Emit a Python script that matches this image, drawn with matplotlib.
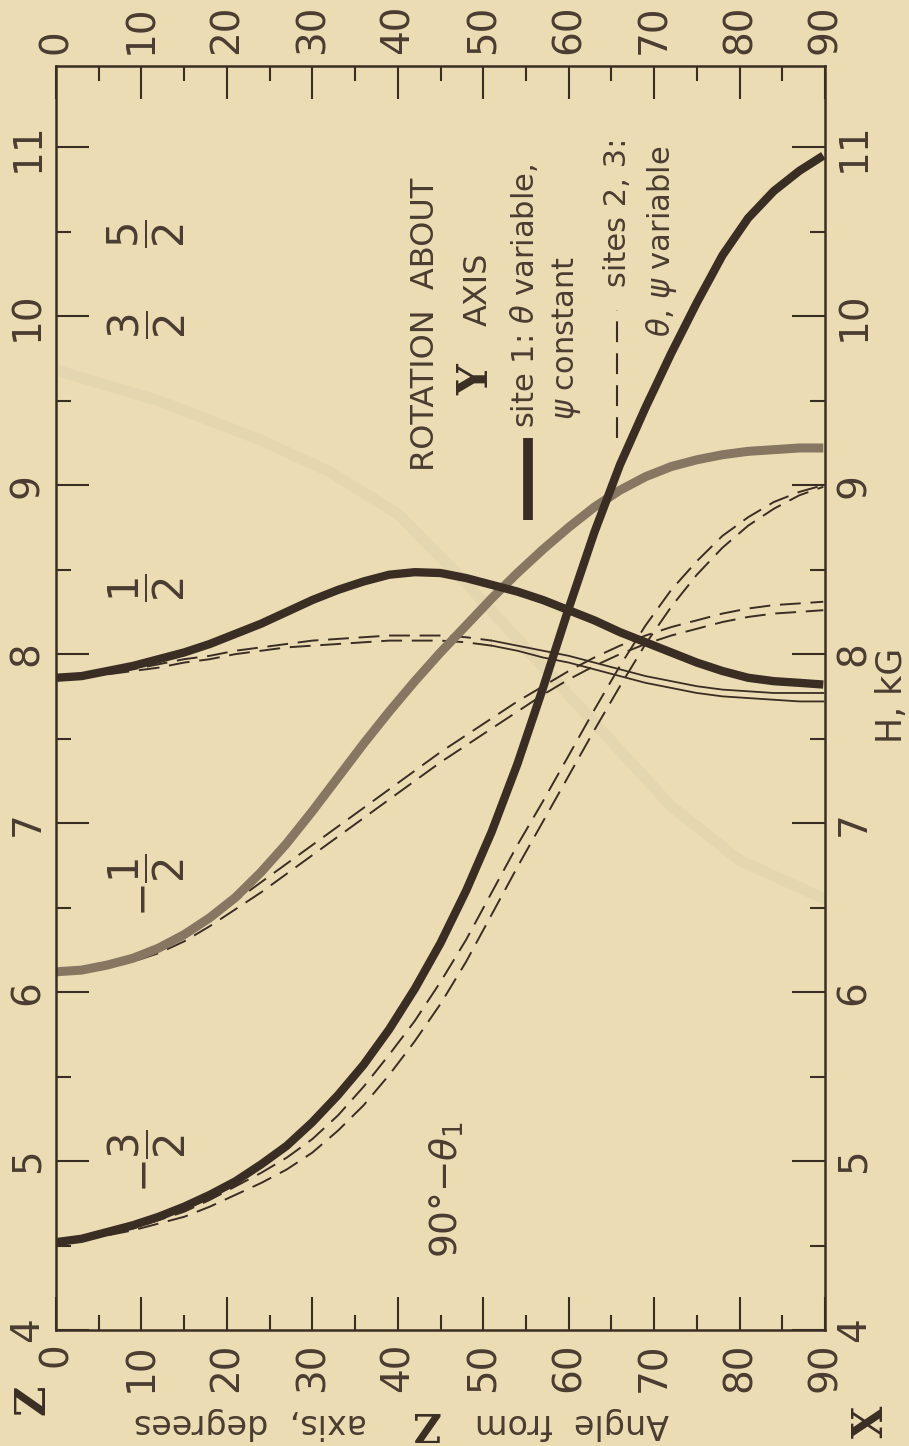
import matplotlib.pyplot as plt
from matplotlib.ticker import MultipleLocator

plt.rcParams['font.family'] = ['DejaVu Sans']
plt.rcParams['mathtext.fontset'] = 'dejavusans'
plt.rcParams['lines.scale_dashes'] = False

#---------------------------- Data: angle (deg) against H (kG) ----------------------------#
angle_ticks = [0, 10, 20, 30, 40, 50, 60, 70, 80, 90]
field_ticks = [4, 5, 6, 7, 8, 9, 10, 11]

angle_grid = [0, 3, 6, 9, 12, 15, 18, 21, 24, 27, 30, 33, 36, 39, 42, 45, 48, 51, 54, 57,
              60, 63, 66, 69, 72, 75, 78, 81, 84, 87, 89.8]

# site 1, lowest level (90 deg - theta_1), thick dark
s1_low_field = [4.52, 4.54, 4.58, 4.62, 4.67, 4.73, 4.80, 4.88, 4.98, 5.09, 5.23, 5.39, 5.57,
                5.78, 6.02, 6.29, 6.60, 6.95, 7.35, 7.80, 8.27, 8.72, 9.12, 9.46, 9.78, 10.08,
                10.36, 10.58, 10.74, 10.86, 10.95]
# sites 2, 3 along the lowest level (two dashed lines)
s23_low_field_a = [4.52, 4.54, 4.57, 4.60, 4.65, 4.70, 4.77, 4.85, 4.93, 5.02, 5.13, 5.27, 5.44,
                   5.63, 5.83, 6.06, 6.31, 6.59, 6.87, 7.13, 7.40, 7.67, 7.93, 8.17, 8.38, 8.55,
                   8.70, 8.81, 8.90, 8.96, 9.00]
s23_low_field_b = [4.52, 4.54, 4.56, 4.59, 4.63, 4.67, 4.73, 4.80, 4.87, 4.95, 5.05, 5.18, 5.33,
                   5.51, 5.71, 5.93, 6.18, 6.46, 6.74, 7.01, 7.28, 7.55, 7.81, 8.06, 8.28, 8.47,
                   8.63, 8.76, 8.86, 8.94, 8.99]

# site 1, second level, thick grey
s1_mid_field = [6.12, 6.13, 6.16, 6.20, 6.26, 6.34, 6.44, 6.56, 6.71, 6.88, 7.07, 7.27, 7.47,
                7.66, 7.84, 8.01, 8.17, 8.33, 8.48, 8.62, 8.75, 8.87, 8.97, 9.05, 9.11, 9.15,
                9.18, 9.20, 9.21, 9.22, 9.22]
# sites 2, 3 along the second level
s23_mid_field_a = [6.12, 6.13, 6.15, 6.19, 6.25, 6.33, 6.43, 6.54, 6.65, 6.76, 6.87, 6.98, 7.09,
                   7.20, 7.31, 7.42, 7.52, 7.62, 7.72, 7.81, 7.90, 7.98, 8.05, 8.11, 8.16, 8.20,
                   8.24, 8.27, 8.29, 8.30, 8.31]
s23_mid_field_b = [6.12, 6.13, 6.15, 6.18, 6.23, 6.30, 6.39, 6.49, 6.59, 6.70, 6.81, 6.92, 7.03,
                   7.14, 7.25, 7.36, 7.46, 7.56, 7.66, 7.76, 7.85, 7.93, 8.00, 8.06, 8.11, 8.15,
                   8.19, 8.22, 8.24, 8.25, 8.26]

# site 1, third level, thick dark
s1_high_field = [7.86, 7.87, 7.90, 7.93, 7.97, 8.01, 8.06, 8.12, 8.18, 8.25, 8.32, 8.38, 8.43,
                 8.47, 8.485, 8.48, 8.45, 8.41, 8.37, 8.32, 8.26, 8.20, 8.13, 8.07, 8.01, 7.95,
                 7.90, 7.86, 7.84, 7.83, 7.82]
# sites 2, 3 along the third level: dashed up to 51 deg, thin solid beyond
s23_high_dash_angle = [0, 3, 6, 9, 12, 15, 18, 21, 24, 27, 30, 33, 36, 39, 42, 45, 48, 51]
s23_high_dash_field_a = [7.86, 7.87, 7.89, 7.91, 7.94, 7.97, 7.99, 8.02, 8.04, 8.06, 8.08, 8.09,
                         8.10, 8.11, 8.11, 8.11, 8.10, 8.08]
s23_high_dash_field_b = [7.86, 7.86, 7.88, 7.90, 7.92, 7.95, 7.97, 8.00, 8.02, 8.04, 8.05, 8.06,
                         8.07, 8.08, 8.08, 8.08, 8.07, 8.05]
s23_high_solid_angle = [51, 54, 57, 60, 63, 66, 69, 72, 75, 78, 81, 84, 87, 89.8]
s23_high_solid_field_a = [8.08, 8.05, 8.02, 7.99, 7.95, 7.91, 7.87, 7.84, 7.81, 7.79, 7.78, 7.77,
                          7.77, 7.77]
s23_high_solid_field_b = [8.05, 8.02, 7.98, 7.95, 7.91, 7.87, 7.83, 7.80, 7.77, 7.75, 7.74, 7.73,
                          7.72, 7.72]

# faint show-through from the reverse page
ghost_angle = [0, 2.7, 12, 23.8, 32, 40, 48, 56, 63.8, 72, 80, 90]
ghost_field = [9.68, 9.64, 9.50, 9.27, 9.08, 8.83, 8.42, 7.98, 7.55, 7.10, 6.78, 6.55]

# level labels
level_labels = [r'$-\dfrac{3}{2}$', r'$-\dfrac{1}{2}$', r'$\dfrac{1}{2}$', r'$\dfrac{3}{2}$', r'$\dfrac{5}{2}$']
level_label_field = [5.0, 6.63, 8.39, 9.95, 10.49]
level_label_angle = 10.6

#------------------------------------------ Plot ------------------------------------------#
bg = '#ecdcb3'
ink = '#3a2d23'
txt = '#4a3c30'
grey = '#877762'

fig = plt.figure(figsize=(9.09, 14.46), dpi=100, facecolor=bg)
ax = fig.add_axes([0.0616, 0.0802, 0.8460, 0.8741], facecolor=bg)
ax.set_xlim(0, 90)
ax.set_ylim(4, 11.48)

ax.plot(ghost_angle, ghost_field, color='#dccfac', lw=8, alpha=0.45, zorder=0)

dash_a = (0, (15, 7))
dash_b = (6, (15, 7))
ax.plot(angle_grid, s23_low_field_a, color=ink, lw=1.4, ls=dash_a)
ax.plot(angle_grid, s23_low_field_b, color=ink, lw=1.4, ls=dash_b)
ax.plot(angle_grid, s23_mid_field_a, color=ink, lw=1.4, ls=dash_a)
ax.plot(angle_grid, s23_mid_field_b, color=ink, lw=1.4, ls=dash_b)
ax.plot(s23_high_dash_angle, s23_high_dash_field_a, color=ink, lw=1.4, ls=dash_a)
ax.plot(s23_high_dash_angle, s23_high_dash_field_b, color=ink, lw=1.4, ls=dash_b)
ax.plot(s23_high_solid_angle, s23_high_solid_field_a, color=ink, lw=1.3)
ax.plot(s23_high_solid_angle, s23_high_solid_field_b, color=ink, lw=1.3)

ax.plot(angle_grid, s1_mid_field, color=grey, lw=6.5, solid_capstyle='butt')
ax.plot(angle_grid, s1_low_field, color=ink, lw=6, solid_capstyle='butt')
ax.plot(angle_grid, s1_high_field, color=ink, lw=6, solid_capstyle='butt')

for lab, fld in zip(level_labels, level_label_field):
    ax.text(level_label_angle, fld, lab, rotation=90, ha='center', va='center',
            fontsize=30, color=txt)

ax.text(45.7, 4.83, r'90°$-\theta_1$', rotation=90, ha='center', va='center',
        fontsize=27, color=txt)

# legend, written sideways like the rest of the figure
ax.text(0.480, 0.796, 'ROTATION  ABOUT', transform=ax.transAxes, rotation=90,
        ha='center', va='center', fontsize=23, color=txt)
ax.text(0.546, 0.752, 'Y', transform=ax.transAxes, rotation=90, ha='center', va='center',
        fontsize=31, fontweight='bold', family='DejaVu Serif', color=ink)
ax.text(0.549, 0.823, 'AXIS', transform=ax.transAxes, rotation=90, ha='center', va='center',
        fontsize=23, color=txt)
ax.plot([0.614, 0.614], [0.641, 0.706], transform=ax.transAxes, color=ink, lw=7,
        solid_capstyle='butt')
ax.text(0.609, 0.714, r'site 1: $\theta$ variable,', transform=ax.transAxes, rotation=90,
        ha='center', va='bottom', fontsize=22, color=txt)
ax.text(0.664, 0.720, r'$\psi$ constant', transform=ax.transAxes, rotation=90,
        ha='center', va='bottom', fontsize=22, color=txt)
ax.plot([0.730, 0.730], [0.706, 0.807], transform=ax.transAxes, color=ink, lw=1.5,
        ls=(0, (15, 8)))
ax.text(0.730, 0.825, 'sites 2, 3:', transform=ax.transAxes, rotation=90,
        ha='center', va='bottom', fontsize=22, color=txt)
ax.text(0.788, 0.786, r'$\theta$, $\psi$ variable', transform=ax.transAxes, rotation=90,
        ha='center', va='bottom', fontsize=22, color=txt)

# axes and ticks
ax.set_xticks(angle_ticks)
ax.set_xticklabels([str(v) for v in angle_ticks])
ax.set_yticks(field_ticks)
ax.set_yticklabels([str(v) for v in field_ticks])
ax.xaxis.set_minor_locator(MultipleLocator(5))
ax.yaxis.set_minor_locator(MultipleLocator(0.5))
ax.tick_params(which='both', direction='in', top=True, right=True, color=ink, width=1.5)
ax.tick_params(which='major', length=24)
ax.tick_params(which='minor', length=11)
ax.tick_params(axis='x', labeltop=True, labelrotation=90, labelsize=28, labelcolor=txt, pad=9)
ax.tick_params(axis='y', labelright=True, labelrotation=90, labelsize=28, labelcolor=txt, pad=7)
for t in ax.yaxis.get_major_ticks():
    t.label1.set_va('center')
    t.label2.set_va('center')
for sp in ax.spines.values():
    sp.set_color(ink)
    sp.set_linewidth(1.8)

# axis titles around the frame
fig.text(0.981, 0.519, 'H, kG', rotation=90, ha='center', va='center', fontsize=25, color=txt)
fig.text(0.036, 0.0318, 'Z', rotation=90, ha='center', va='center', fontsize=30,
         fontweight='bold', family='DejaVu Serif', color=ink)
fig.text(0.958, 0.0166, 'X', rotation=90, ha='center', va='center', fontsize=30,
         fontweight='bold', family='DejaVu Serif', color=ink)
fig.text(0.276, 0.0159, 'axis,  degrees', rotation=180, ha='center', va='center',
         fontsize=24, color=txt)
fig.text(0.4675, 0.0159, 'Z', rotation=180, ha='center', va='center', fontsize=28,
         fontweight='bold', family='DejaVu Serif', color=ink)
fig.text(0.629, 0.0159, 'Angle  from', rotation=180, ha='center', va='center',
         fontsize=24, color=txt)

fig.savefig('out.png', dpi=100, facecolor=bg)
